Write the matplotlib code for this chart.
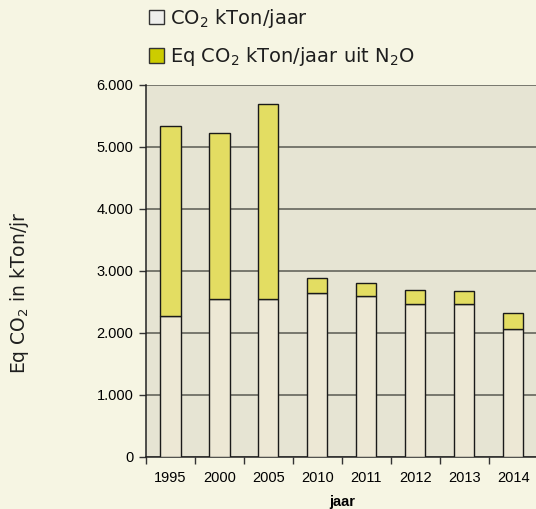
import matplotlib
matplotlib.use('Agg')
import matplotlib.pyplot as plt
from matplotlib.patches import Patch
import numpy as np

plt.rcParams['mathtext.default'] = 'regular'

# values (kTon/jaar)
years = ['1995', '2000', '2005', '2010', '2011', '2012', '2013', '2014']
co2 = [2270, 2540, 2550, 2640, 2590, 2470, 2470, 2070]
total = [5330, 5220, 5700, 2880, 2800, 2690, 2680, 2320]
n2o = [t - c for t, c in zip(total, co2)]

FIG_BG = '#F6F5E3'
AX_BG = '#E6E4D3'
CO2_C = '#EDE8D5'
N2O_C = '#E3DD62'
LBL_FONT = 'DejaVu Sans'

fig = plt.figure(figsize=(5.36, 5.09), dpi=100, facecolor=FIG_BG)
ax = fig.add_axes([0.2724, 0.1022, 0.731, 0.731])
ax.set_facecolor(AX_BG)

x = np.arange(len(years))
ax.bar(x, co2, width=0.41, color=CO2_C, edgecolor='#1a1a1a', lw=1.0, zorder=3)
ax.bar(x, n2o, bottom=co2, width=0.41, color=N2O_C, edgecolor='#1a1a1a', lw=1.0, zorder=3)

ax.set_xlim(-0.5, len(years) - 0.5)
ax.set_ylim(0, 6000)
ax.set_yticks(range(0, 6001, 1000))
ax.set_yticklabels(['0', '1.000', '2.000', '3.000', '4.000', '5.000', '6.000'],
                   family='Liberation Sans', fontsize=10.5)
ax.yaxis.grid(True, color='#5a5a52', lw=1.1, zorder=1)
ax.set_axisbelow(True)

# category boundary ticks, labels in between
ax.set_xticks(np.arange(len(years) + 1) - 0.5)
ax.set_xticklabels([])
ax.set_xticks(x, minor=True)
ax.set_xticklabels(years, minor=True, family='Liberation Sans', fontsize=10.5)
ax.tick_params(axis='x', which='minor', length=0, pad=10)
ax.tick_params(axis='x', which='major', length=5, width=1, color='#333333')
ax.tick_params(axis='y', length=5, width=1, color='#333333', pad=4)

for s in ['top', 'right']:
    ax.spines[s].set_visible(False)
for s in ['left', 'bottom']:
    ax.spines[s].set_color('#222222')
    ax.spines[s].set_linewidth(1.1)

ax.set_xlabel('jaar', family='Liberation Sans', fontweight='bold', fontsize=10.5, labelpad=7)
fig.text(0.036, 0.424, 'Eq CO$_2$ in kTon/jr', rotation=90, ha='center', va='center',
         family=LBL_FONT, fontsize=13.5, color='#1e1e1e')

handles = [Patch(facecolor='#EEEEEC', edgecolor='#333333', lw=1.0),
           Patch(facecolor='#CCCC00', edgecolor='#333333', lw=1.0)]
labels = ['CO$_2$ kTon/jaar', 'Eq CO$_2$ kTon/jaar uit N$_2$O']
fig.legend(handles, labels, loc='upper left', bbox_to_anchor=(0.245, 1.021), frameon=False,
           prop={'family': LBL_FONT, 'size': 14}, handlelength=0.8, handleheight=0.8,
           handletextpad=0.3, labelspacing=0.78, labelcolor='#1e1e1e')

fig.savefig('out.png', dpi=100, facecolor=FIG_BG)
